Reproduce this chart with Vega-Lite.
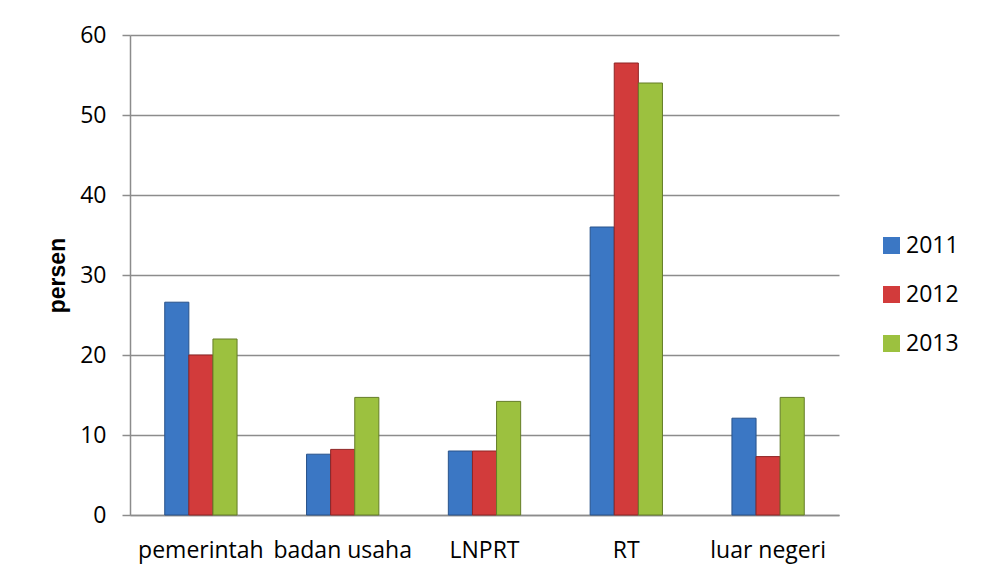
{
  "$schema": "https://vega.github.io/schema/vega-lite/v6.json",
  "autosize": {"type": "none"},
  "width": 709,
  "height": 480,
  "padding": {"left": 130, "top": 35, "right": 143, "bottom": 65},
  "background": "white",
  "data": {
    "values": [
      {"kategori": "pemerintah", "tahun": "2011", "persen": 26.6},
      {"kategori": "pemerintah", "tahun": "2012", "persen": 20.0},
      {"kategori": "pemerintah", "tahun": "2013", "persen": 22.0},
      {"kategori": "badan usaha", "tahun": "2011", "persen": 7.6},
      {"kategori": "badan usaha", "tahun": "2012", "persen": 8.2},
      {"kategori": "badan usaha", "tahun": "2013", "persen": 14.7},
      {"kategori": "LNPRT", "tahun": "2011", "persen": 8.0},
      {"kategori": "LNPRT", "tahun": "2012", "persen": 8.0},
      {"kategori": "LNPRT", "tahun": "2013", "persen": 14.2},
      {"kategori": "RT", "tahun": "2011", "persen": 36.0},
      {"kategori": "RT", "tahun": "2012", "persen": 56.5},
      {"kategori": "RT", "tahun": "2013", "persen": 54.0},
      {"kategori": "luar negeri", "tahun": "2011", "persen": 12.1},
      {"kategori": "luar negeri", "tahun": "2012", "persen": 7.3},
      {"kategori": "luar negeri", "tahun": "2013", "persen": 14.7}
    ]
  },
  "mark": {"type": "bar", "strokeWidth": 1},
  "encoding": {
    "x": {
      "field": "kategori",
      "type": "nominal",
      "sort": ["pemerintah", "badan usaha", "LNPRT", "RT", "luar negeri"],
      "scale": {"paddingInner": 0.49, "paddingOuter": 0.245},
      "axis": {
        "title": null,
        "labelAngle": 0,
        "labelFont": "Open Sans",
        "labelFontSize": 23,
        "labelColor": "#000000",
        "labelPadding": 24,
        "labelBaseline": "top",
        "ticks": false,
        "domain": true,
        "domainColor": "#8c8c8c",
        "domainWidth": 1.5
      }
    },
    "xOffset": {"field": "tahun", "type": "nominal", "sort": ["2011", "2012", "2013"]},
    "y": {
      "field": "persen",
      "type": "quantitative",
      "scale": {"domain": [0, 60], "nice": false},
      "axis": {
        "values": [0, 10, 20, 30, 40, 50, 60],
        "title": "persen",
        "titleFont": "Liberation Sans",
        "titleFontWeight": "bold",
        "titleFontSize": 23,
        "titleColor": "#000000",
        "titleAngle": -90,
        "titleX": -66,
        "titleY": 240,
        "titleAlign": "center",
        "titleBaseline": "alphabetic",
        "labelFont": "Open Sans",
        "labelFontSize": 23,
        "labelColor": "#000000",
        "labelPadding": 16,
        "tickSize": 8,
        "tickColor": "#8c8c8c",
        "tickWidth": 1.5,
        "domainColor": "#8c8c8c",
        "domainWidth": 1.5,
        "grid": true,
        "gridColor": "#8c8c8c",
        "gridWidth": 1.5
      }
    },
    "color": {
      "field": "tahun",
      "type": "nominal",
      "scale": {"domain": ["2011", "2012", "2013"], "range": ["#3b77c4", "#d23b3b", "#9cc13f"]},
      "legend": {
        "title": null,
        "orient": "none",
        "legendX": 750,
        "legendY": 199,
        "symbolType": "square",
        "symbolSize": 289,
        "symbolStrokeWidth": 0,
        "labelFont": "Open Sans",
        "labelFontSize": 23,
        "labelColor": "#000000",
        "labelOffset": 3,
        "rowPadding": 25,
        "padding": 0
      }
    },
    "stroke": {
      "field": "tahun",
      "type": "nominal",
      "scale": {"domain": ["2011", "2012", "2013"], "range": ["#28528a", "#8f2525", "#647d27"]},
      "legend": null
    }
  },
  "config": {
    "view": {"stroke": null}
  }
}
